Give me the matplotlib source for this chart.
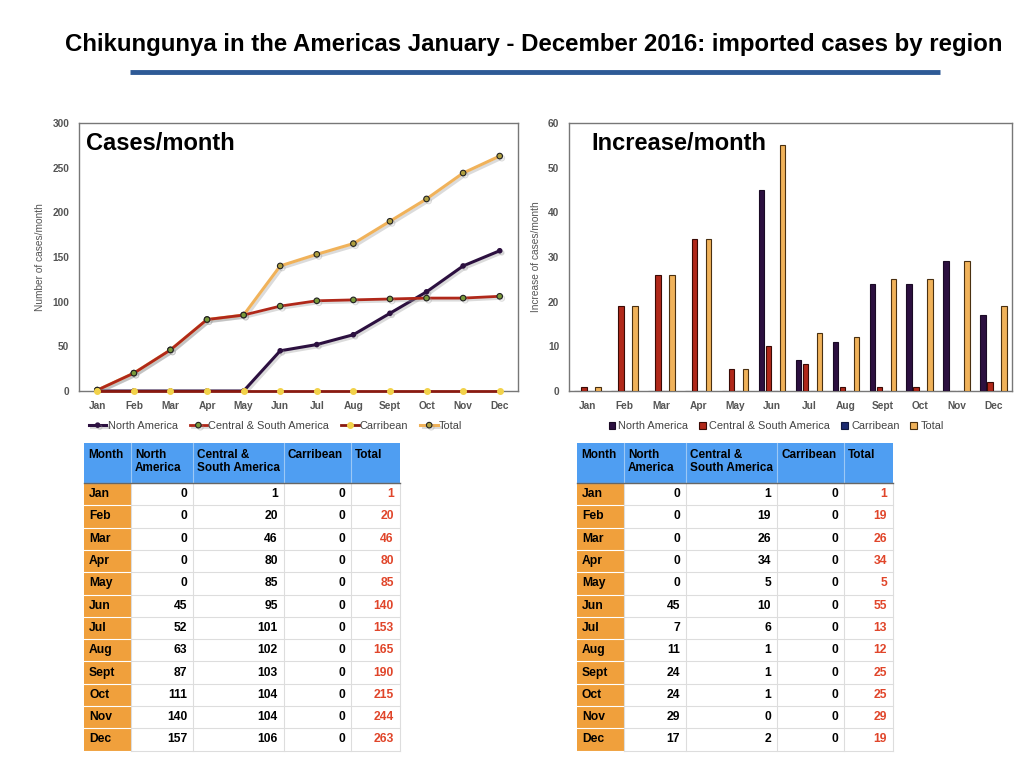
import numpy as np
import matplotlib
matplotlib.use("Agg")
import matplotlib.pyplot as plt
import matplotlib.patheffects as pe
from matplotlib.patches import Rectangle

plt.rcParams['font.family'] = ['Liberation Sans', 'DejaVu Sans']

# data
months = ['Jan', 'Feb', 'Mar', 'Apr', 'May', 'Jun', 'Jul', 'Aug', 'Sept', 'Oct', 'Nov', 'Dec']
regions = ['North America', 'Central & South America', 'Carribean', 'Total']

cum_north = [0, 0, 0, 0, 0, 45, 52, 63, 87, 111, 140, 157]
cum_csa = [1, 20, 46, 80, 85, 95, 101, 102, 103, 104, 104, 106]
cum_carib = [0, 0, 0, 0, 0, 0, 0, 0, 0, 0, 0, 0]
cum_total = [1, 20, 46, 80, 85, 140, 153, 165, 190, 215, 244, 263]

inc_north = [0, 0, 0, 0, 0, 45, 7, 11, 24, 24, 29, 17]
inc_csa = [1, 19, 26, 34, 5, 10, 6, 1, 1, 1, 0, 2]
inc_carib = [0, 0, 0, 0, 0, 0, 0, 0, 0, 0, 0, 0]
inc_total = [1, 19, 26, 34, 5, 55, 13, 12, 25, 25, 29, 19]

c_north = '#2c1040'
c_csa = '#b0281a'
c_carib = '#1c2a70'
c_total = '#f0b25a'
tick_grey = '#555555'

fig = plt.figure(figsize=(10.24, 7.68), dpi=100)
fig.patch.set_facecolor('white')

x = np.arange(len(months))


def style_axes(ax, ymax, ystep, ylabel):
    ax.set_xlim(-0.5, len(months) - 0.5)
    ax.set_ylim(0, ymax)
    ax.set_yticks(np.arange(0, ymax + 1, ystep))
    ax.set_xticks(x)
    ax.set_xticklabels(months)
    ax.tick_params(axis='both', length=0, labelsize=7.3, labelcolor=tick_grey, pad=7)
    for lab in ax.get_xticklabels() + ax.get_yticklabels():
        lab.set_fontweight('bold')
    ax.set_ylabel(ylabel, fontsize=7.3, color=tick_grey, labelpad=5)
    for s in ax.spines.values():
        s.set_color('#777777')
        s.set_linewidth(1.0)


# left: cumulative cases
ax1 = fig.add_axes([79 / 1024, 1 - 391 / 768, 439 / 1024, 268 / 768])
shadow = [pe.SimpleLineShadow(offset=(1.5, -1.5), shadow_color='#999999', alpha=0.35), pe.Normal()]
ax1.plot(x, cum_north, color=c_north, lw=2.2, marker='o', ms=3, mfc=c_north, mec=c_north,
         label=regions[0], path_effects=shadow, zorder=3)
ax1.plot(x, cum_csa, color=c_csa, lw=2, marker='o', ms=4, mfc='#7a9a3a', mec='#222222', mew=0.8,
         label=regions[1], path_effects=shadow, zorder=4)
ax1.plot(x, cum_carib, color='#8a1a10', lw=2, marker='o', ms=4, mfc='#f2d24a', mec='#f2d24a',
         label=regions[2], zorder=5, clip_on=False)
ax1.plot(x, cum_total, color=c_total, lw=2.2, marker='o', ms=4, mfc='#b0a040', mec='#222222', mew=0.8,
         label=regions[3], path_effects=shadow, zorder=2)
style_axes(ax1, 300, 50, 'Number of cases/month')
ax1.text(0.015, 0.925, 'Cases/month', transform=ax1.transAxes, fontsize=17, fontweight='bold',
         va='center', ha='left')
ax1.legend(loc='upper left', bbox_to_anchor=(0.0, -0.075), ncol=4, frameon=False, fontsize=7.9,
           handlelength=1.6, handletextpad=0.1, columnspacing=1.1, labelcolor='#444444')

# right: monthly increase
ax2 = fig.add_axes([569 / 1024, 1 - 391 / 768, 443 / 1024, 268 / 768])
w = 0.15
offs = [-0.285, -0.095, 0.095, 0.285]
series = [inc_north, inc_csa, inc_carib, inc_total]
cols = [c_north, c_csa, c_carib, c_total]
edges = ['#1a0a25', '#3a0a05', '#101840', '#4a3010']
for vals, off, col, ec, name in zip(series, offs, cols, edges, regions):
    ax2.bar(x + off, vals, width=w, color=col, edgecolor=ec, linewidth=0.8, label=name, zorder=3)
style_axes(ax2, 60, 10, 'Increase of cases/month')
ax2.text(0.05, 0.925, 'Increase/month', transform=ax2.transAxes, fontsize=17, fontweight='bold',
         va='center', ha='left')
ax2.legend(loc='upper left', bbox_to_anchor=(0.067, -0.075), ncol=4, frameon=False, fontsize=7.9,
           handlelength=0.6, handleheight=0.6, handletextpad=0.3, columnspacing=1.0,
           labelcolor='#444444')

# overlay in pixel coordinates for title and tables
ov = fig.add_axes([0, 0, 1, 1])
ov.set_xlim(0, 1024)
ov.set_ylim(768, 0)
ov.axis('off')

ov.text(534, 45, 'Chikungunya in the Americas January - December 2016: imported cases by region',
        fontsize=17.3, fontweight='bold', ha='center', va='center',
        family=['Liberation Sans Narrow', 'Liberation Sans', 'DejaVu Sans'])
ov.plot([130, 940], [72, 72], color='#2e5a96', lw=3.5, solid_capstyle='butt')

headers = ['Month', 'North\nAmerica', 'Central &\nSouth America', 'Carribean', 'Total']
col_widths = [47, 62, 91, 67, 49]
head_h = 40
row_h = 22.3


def draw_table(x0, y0, north, csa, carib, total):
    edges_x = np.concatenate([[0], np.cumsum(col_widths)]) + x0
    total_w = edges_x[-1] - x0
    ov.add_patch(Rectangle((x0, y0), total_w, head_h, facecolor='#4f9ef2', edgecolor='none'))
    for i, h in enumerate(headers):
        ov.text(edges_x[i] + 4, y0 + 6, h, fontsize=8.5, fontweight='bold', ha='left', va='top',
                linespacing=1.1)
    for i in range(1, len(edges_x) - 1):
        ov.plot([edges_x[i]] * 2, [y0, y0 + head_h], color='#9cc8f5', lw=0.8)
    top = y0 + head_h
    n = len(months)
    ov.add_patch(Rectangle((x0, top), col_widths[0], n * row_h, facecolor='#f0a03c', edgecolor='none'))
    for r in range(n + 1):
        yy = top + r * row_h
        ov.plot([x0, edges_x[1]], [yy, yy], color='white', lw=0.8)
        ov.plot([edges_x[1], edges_x[-1]], [yy, yy], color='#dddddd', lw=0.8)
    for i in range(1, len(edges_x)):
        ov.plot([edges_x[i]] * 2, [top, top + n * row_h], color='#dddddd', lw=0.8)
    ov.plot([x0, edges_x[-1]], [top, top], color='#666666', lw=1.0)
    for r, m in enumerate(months):
        yc = top + (r + 0.5) * row_h
        ov.text(x0 + 5, yc, m, fontsize=8.7, fontweight='bold', ha='left', va='center')
        vals = [north[r], csa[r], carib[r], total[r]]
        for j, v in enumerate(vals):
            ov.text(edges_x[j + 2] - 6, yc, str(v), fontsize=8.7, fontweight='bold', ha='right',
                    va='center', color='#e0452a' if j == 3 else 'black')


draw_table(84, 443, cum_north, cum_csa, cum_carib, cum_total)
draw_table(577, 443, inc_north, inc_csa, inc_carib, inc_total)

fig.savefig('out.png', dpi=100, facecolor='white')
